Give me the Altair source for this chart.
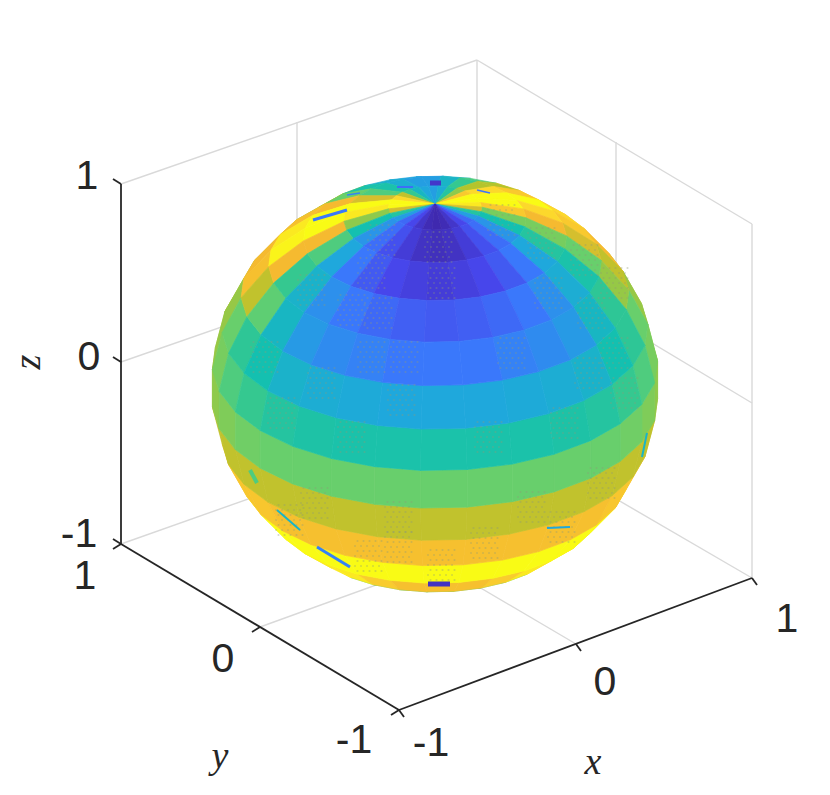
import math
import altair as alt

# Colour value of each sphere patch: rows are 12-degree latitude bands from the north pole,
# columns are 12-degree steps of longitude away from the meridian facing the viewer.
RIGHT_VALUES = [
    [.01,.02,.05,.10,.17,.28,.45,.75,.95,1.0,1.0,.85,.65,.45,.32,.28],
    [.03,.04,.07,.12,.18,.26,.40,.62,.85,1.0,1.0,.90,.70,.50,.35,.28],
    [.07,.08,.10,.14,.20,.30,.45,.62,.80,.90,1.0,.85,.70,.55,.35,.28],
    [.14,.15,.17,.20,.25,.32,.42,.60,.75,.85,.90,.85,.85,.80,.70,.50],
    [.20,.20,.22,.24,.27,.36,.48,.66,.72,.80,.82,.82,.82,.82,.82,.82],
    [.30,.30,.31,.32,.34,.40,.48,.60,.66,.70,.70,.70,.70,.70,.70,.70],
    [.42,.42,.42,.43,.45,.50,.55,.62,.66,.68,.68,.68,.68,.68,.68,.68],
    [.60,.60,.60,.60,.60,.61,.63,.65,.68,.68,.68,.68,.68,.68,.68,.68],
    [.72,.72,.72,.72,.72,.72,.72,.72,.72,.72,.72,.72,.72,.72,.72,.72],
    [.82,.82,.82,.82,.82,.84,.84,.84,.84,.84,.84,.84,.84,.84,.84,.84],
    [1.0,1.0,1.0,1.0,1.0,1.0,1.0,1.0,1.0,1.0,1.0,1.0,1.0,1.0,1.0,1.0],
    [.82,.82,.86,.95,.95,.95,.95,.95,.95,.95,.95,.95,.95,.95,.95,.95],
    [.58,.58,.58,.58,.58,.58,.58,.58,.58,.58,.58,.58,.58,.58,.58,.58],
]
# The upper left of the sphere differs from the right: these rows replace the first five.
LEFT_TOP_VALUES = [
    [.01,.02,.05,.10,.17,.28,.45,.75,1.0,1.0,.90,.72,.50,.36,.30,.28],
    [.03,.04,.07,.12,.18,.26,.40,.65,.95,1.0,.75,.55,.42,.32,.28,.28],
    [.07,.08,.10,.14,.20,.30,.55,.80,1.0,1.0,.80,.60,.42,.33,.30,.28],
    [.14,.15,.17,.20,.25,.34,.50,.80,.98,.95,.82,.70,.70,.70,.70,.70],
    [.20,.20,.22,.24,.27,.36,.58,.72,.82,.80,.75,.75,.75,.75,.75,.75],
]
PARULA_STOPS = [0, .1, .2, .3, .4, .5, .6, .7, .8, .9, 1]
PARULA = ["#3e26a8", "#4746eb", "#3a78fb", "#1fa8dc", "#14c0b0", "#35c890",
          "#68cf6c", "#b4c42c", "#f5ba30", "#fcd82c", "#f9fb15"]

LON_STEP = 12
LAT_STEP = 12
FRONT_LON = -128.3
CENTER = (427, 376)
RIGHT = 224
DOWN = 106
UP = 180

Z_LABELS = [("1", 79, 169), ("0", 81, 350), ("-1", 71, 527)]
Y_LABELS = [("1", 77, 569), ("0", 215, 652), ("-1", 346, 733)]
X_LABELS = [("-1", 423, 736), ("0", 597, 675), ("1", 779, 612)]
TITLES = [("x", 585, 755, 0), ("y", 212, 749, 0), ("z", 21, 354, -90)]

BLACK_AXES = [
    (113, 176, 113, 536), (113, 536, 391, 702), (391, 702, 744, 570),
]
TICKS = [
    (113, 176, 105, 171), (113, 354, 105, 349), (113, 536, 105, 531),
    (113, 536, 105, 541), (252, 619, 244, 624), (391, 702, 383, 707),
    (391, 702, 396, 709), (568, 636, 573, 643), (744, 570, 749, 577),
]
GRID = [
    (113, 176, 469, 52), (469, 52, 744, 216), (744, 216, 744, 570),
    (469, 52, 469, 410), (113, 536, 469, 410), (469, 410, 744, 570),
    (289, 114, 289, 470), (608, 134, 608, 490), (113, 354, 469, 230),
    (469, 230, 744, 395), (252, 619, 608, 490), (568, 636, 289, 472),
]
# Rendering flaws of the surface: stippled spots (centre x, centre y in page pixels)
STIPPLE_X = [310, 380, 370, 437, 440, 377, 350, 500, 540, 583, 613, 547, 590, 263, 320, 280,
             370, 403, 510, 613, 587, 400, 563, 623, 350, 487, 313, 397, 530, 600, 288, 397,
             483, 560, 440, 367]
STIPPLE_Y = [290, 240, 273, 247, 283, 313, 310, 220, 243, 260, 283, 293, 313, 357, 383, 413,
             357, 357, 353, 353, 373, 400, 423, 393, 437, 437, 503, 517, 507, 483, 520, 547,
             543, 527, 565, 556]
# ... and streaks where hidden patches break through: x1, y1, x2, y2, colour value, width
STREAKS = [
    (313, 220, 347, 210, .2, 3), (397, 187, 413, 187, .18, 2), (430, 183, 441, 183, .05, 5),
    (347, 195, 360, 193, .22, 1.5), (477, 190, 490, 193, .2, 1.5), (317, 547, 350, 567, .22, 3),
    (428, 584, 450, 584, .04, 5), (547, 528, 570, 527, .3, 2), (277, 510, 300, 530, .35, 2),
    (647, 433, 642, 457, .35, 2), (250, 470, 257, 483, .55, 4),
]
OFFSET = 8
SPOT_COLS = [-12, -6, 0, 6, 12]
SPOT_ROWS = [-15, -10, -5, 0, 5, 10, 15]


def project(lat, delta):
    p, d = math.radians(lat), math.radians(delta)
    return [CENTER[0] + RIGHT * math.cos(p) * math.sin(d),
            CENTER[1] - UP * math.sin(p) + DOWN * math.cos(p) * math.cos(d)]


def facing(lat, delta):
    p, d = math.radians(lat), math.radians(delta)
    return .861 * math.cos(p) * math.cos(d) + .507 * math.sin(p)


patches = []
for r, row in enumerate(RIGHT_VALUES):
    top = 90 - r * LAT_STEP
    bot = top - LAT_STEP
    for k in range(-15, 15):
        lon0 = -132 + k * LON_STEP
        d0 = lon0 - FRONT_LON
        d1 = d0 + LON_STEP
        corners = [(top, d0), (top, d1), (bot, d1), (bot, d0)]
        depth = [facing(*c) for c in corners]
        if max(depth) <= 0:
            continue
        mid = (d0 + d1) / 2
        while mid > 180:
            mid -= 360
        while mid < -180:
            mid += 360
        j = min(15, int(abs(mid) / LON_STEP + .5))
        values = LEFT_TOP_VALUES[r] if (mid < 0 and r < len(LEFT_TOP_VALUES)) else row
        ring = [project(*c) for c in corners]
        ring.append(ring[0])
        patches.append((sum(depth) / 4, {
            "type": "Feature",
            "geometry": {"type": "Polygon", "coordinates": [ring]},
            "properties": {"v": values[j]},
        }))
patches.sort(key=lambda t: t[0])
features = [p[1] for p in patches]

W, H = 814, 779
xs = alt.Scale(domain=[0, W], range=[0, W])
ys = alt.Scale(domain=[0, H], range=[0, H])
colors = alt.Scale(domain=PARULA_STOPS, range=PARULA, interpolate="rgb")


def segs(lines):
    return [{"a": a, "b": b, "c": c, "d": d} for a, b, c, d in lines]


def rule(lines, color, width):
    return alt.Chart(alt.Data(values=segs(lines))).mark_rule(color=color, strokeWidth=width).encode(
        x=alt.X("a:Q", scale=xs, axis=None), y=alt.Y("b:Q", scale=ys, axis=None),
        x2="c:Q", y2="d:Q")


def labels(items):
    return alt.Chart(alt.Data(values=[{"t": t, "a": a, "b": b} for t, a, b in items])).mark_text(
        font="Liberation Sans", fontSize=41, color="#262626", align="center", baseline="middle"
    ).encode(x=alt.X("a:Q", scale=xs, axis=None), y=alt.Y("b:Q", scale=ys, axis=None), text="t:N")


sphere = alt.Chart(alt.Data(values=features)).mark_geoshape(strokeWidth=.7).encode(
    fill=alt.Fill("properties.v:Q", scale=colors, legend=None),
    stroke=alt.Stroke("properties.v:Q", scale=colors, legend=None),
).project(type="identity", scale=1, translate=[0, 0])

stipple_rows = [{"a": x - OFFSET + dx + (dy % 10) / 2, "b": y - OFFSET + dy}
                for x, y in zip(STIPPLE_X, STIPPLE_Y) for dx in SPOT_COLS for dy in SPOT_ROWS]
stipple = alt.Chart(alt.Data(values=stipple_rows)).mark_square(
    size=3, color="#8f9a78", opacity=.4
).encode(x=alt.X("a:Q", scale=xs, axis=None), y=alt.Y("b:Q", scale=ys, axis=None))

streak_rows = [{"a": a - OFFSET, "b": b - OFFSET, "c": c - OFFSET, "d": d - OFFSET, "v": v, "w": w}
               for a, b, c, d, v, w in STREAKS]
streaks = alt.Chart(alt.Data(values=streak_rows)).mark_rule().encode(
    x=alt.X("a:Q", scale=xs, axis=None), y=alt.Y("b:Q", scale=ys, axis=None),
    x2="c:Q", y2="d:Q",
    color=alt.Color("v:Q", scale=colors, legend=None),
    strokeWidth=alt.StrokeWidth("w:Q", scale=None),
)

titles = [alt.Chart(alt.Data(values=[{"t": t, "a": a, "b": b}])).mark_text(
    font="Liberation Serif", fontStyle="italic", fontSize=38, color="#262626",
    align="center", baseline="middle", angle=(ang % 360)
).encode(x=alt.X("a:Q", scale=xs, axis=None), y=alt.Y("b:Q", scale=ys, axis=None), text="t:N")
    for t, a, b, ang in TITLES]

chart = alt.layer(
    rule(GRID, "#d9d9d9", 1.4),
    sphere,
    stipple,
    streaks,
    rule(BLACK_AXES, "#262626", 1.8),
    rule(TICKS, "#262626", 1.8),
    labels(Z_LABELS), labels(Y_LABELS), labels(X_LABELS),
    *titles,
).properties(
    width=W, height=H, padding=0, autosize=alt.AutoSizeParams(type="none")
).configure_view(stroke=None)

chart.save("out.html", embed_options={"renderer": "svg", "actions": False})
